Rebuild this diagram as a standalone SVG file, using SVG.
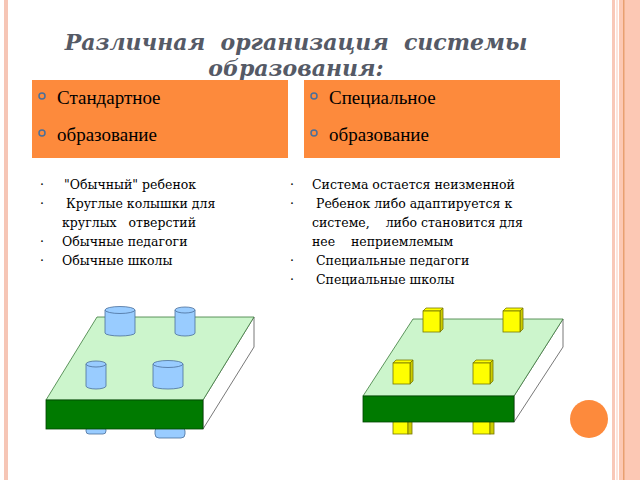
<svg xmlns="http://www.w3.org/2000/svg" width="640" height="480" viewBox="0 0 640 480">
<style>
text{white-space:pre}
.h{font-family:'Liberation Serif','Times New Roman',serif;font-size:19px;fill:#000}
.b{font-family:'DejaVu Serif',serif;font-size:12.5px;fill:#000}
.ttl{font-family:'DejaVu Serif',serif;font-style:italic;font-weight:bold;font-size:22px;fill:#555a66}
.top{fill:#ccf5cc;stroke:#3a7a3a;stroke-width:0.8}
.front{fill:#007a00;stroke:#004400;stroke-width:0.8}
.side{fill:#fff;stroke:#555;stroke-width:0.8}
.cyl{fill:#99ccff;stroke:#4a6f9a;stroke-width:0.8}
.cub{fill:#ffff00;stroke:#777700;stroke-width:0.8}
.cubs{fill:#cccc00;stroke:#777700;stroke-width:0.8}
</style>
<rect width="640" height="480" fill="#fff"/>
<rect x="4" y="0" width="4" height="480" fill="#f6c6b6"/>
<rect x="612" y="0" width="3" height="480" fill="#f9c8b8"/>
<rect x="619" y="0" width="21" height="480" fill="#fcc8b4"/>
<rect x="623" y="0" width="1.5" height="480" fill="#e8a070"/>
<rect x="616" y="0" width="2" height="480" fill="#fde4dc"/>
<g id="title" text-anchor="middle">
<text class="ttl" x="296" y="50">Различная  организация  системы</text>
<text class="ttl" x="296" y="76">образования:</text>
</g>
<g id="box-standard">
<rect x="32" y="80" width="256" height="78" fill="#fd8a3c"/>
<circle cx="42" cy="96" r="3" fill="none" stroke="#4a6f9a" stroke-width="1.5"/>
<circle cx="42" cy="133" r="3" fill="none" stroke="#4a6f9a" stroke-width="1.5"/>
<text class="h" x="57" y="104">Стандартное</text>
<text class="h" x="57" y="141">образование</text>
</g>
<g id="box-special">
<rect x="304" y="80" width="256" height="78" fill="#fd8a3c"/>
<circle cx="314" cy="96" r="3" fill="none" stroke="#4a6f9a" stroke-width="1.5"/>
<circle cx="314" cy="133" r="3" fill="none" stroke="#4a6f9a" stroke-width="1.5"/>
<text class="h" x="329" y="104">Специальное</text>
<text class="h" x="329" y="141">образование</text>
</g>
<g id="list-left">
<text class="b" x="40" y="189">·</text><text class="b" x="64" y="189">"Обычный" ребенок</text>
<text class="b" x="40" y="208">·</text><text class="b" x="66" y="208">Круглые колышки для</text>
<text class="b" x="62" y="227">круглых   отверстий</text>
<text class="b" x="40" y="246">·</text><text class="b" x="62" y="246">Обычные педагоги</text>
<text class="b" x="40" y="265">·</text><text class="b" x="62" y="265">Обычные школы</text>
</g>
<g id="list-right">
<text class="b" x="290" y="189">·</text><text class="b" x="312" y="189">Система остается неизменной</text>
<text class="b" x="290" y="208">·</text><text class="b" x="316" y="208">Ребенок либо адаптируется к</text>
<text class="b" x="312" y="227">системе,    либо становится для</text>
<text class="b" x="312" y="246">нее    неприемлемым</text>
<text class="b" x="290" y="265">·</text><text class="b" x="316" y="265">Специальные педагоги</text>
<text class="b" x="290" y="284">·</text><text class="b" x="316" y="284">Специальные школы</text>
</g>
<g id="board-left">
<rect class="cyl" x="86" y="427" width="20" height="7" rx="3"/>
<rect class="cyl" x="155" y="427" width="30" height="11" rx="4"/>
<polygon class="side" points="203,400 254,317 254,347 203,429"/>
<polygon class="top" points="97,317 254,317 203,400 46,400"/>
<rect class="front" x="46" y="400" width="157" height="29"/>
<g class="cyl">
<path d="M105,310 v23 a15,3 0 0 0 30,0 v-23"/><ellipse cx="120" cy="310" rx="15" ry="3.5"/>
<path d="M175,310 v23 a10,3 0 0 0 20,0 v-23"/><ellipse cx="185" cy="310" rx="10" ry="3"/>
<path d="M86,364 v22 a10,3 0 0 0 20,0 v-22"/><ellipse cx="96" cy="364" rx="10" ry="3"/>
<path d="M153,364 v22 a15,3 0 0 0 30,0 v-22"/><ellipse cx="168" cy="364" rx="15" ry="3.5"/>
</g>
</g>
<g id="board-right">
<rect class="cub" x="393" y="420" width="15" height="14"/><rect class="cubs" x="408" y="420" width="4" height="14"/>
<rect class="cub" x="473" y="420" width="17" height="14"/><rect class="cubs" x="490" y="420" width="4" height="14"/>
<polygon class="side" points="514,396 563,319 563,347 514,422"/>
<polygon class="top" points="413,319 563,319 514,396 363,396"/>
<rect class="front" x="363" y="396" width="151" height="26"/>
<g>
<polygon class="cub" points="423,311 426,308 443,308 440,311"/><polygon class="cubs" points="440,311 443,308 443,329 440,332"/><rect class="cub" x="423" y="311" width="17" height="21"/>
<polygon class="cub" points="503,311 506,308 523,308 520,311"/><polygon class="cubs" points="520,311 523,308 523,329 520,332"/><rect class="cub" x="503" y="311" width="17" height="21"/>
<polygon class="cub" points="393,363 396,360 413,360 410,363"/><polygon class="cubs" points="410,363 413,360 413,381 410,384"/><rect class="cub" x="393" y="363" width="17" height="21"/>
<polygon class="cub" points="473,363 476,360 493,360 490,363"/><polygon class="cubs" points="490,363 493,360 493,381 490,384"/><rect class="cub" x="473" y="363" width="17" height="21"/>
</g>
</g>
<circle cx="589" cy="419" r="19" fill="#fd8a3c"/>
</svg>
